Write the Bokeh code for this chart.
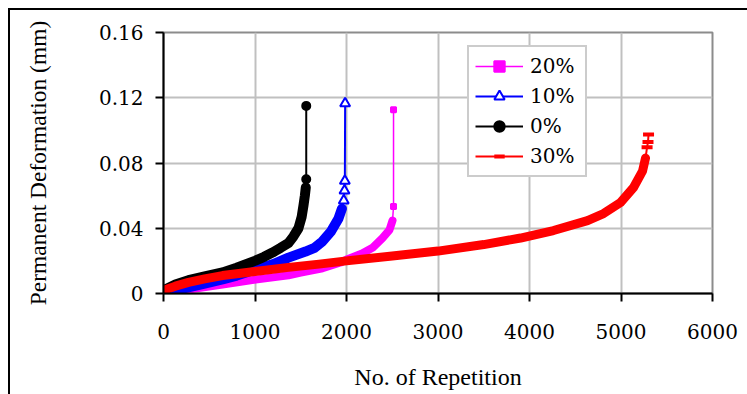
from bokeh.plotting import figure
from bokeh.models import Range1d, FixedTicker, Legend, LegendItem
from bokeh.embed import file_html
from bokeh.resources import INLINE

# ---- data ----
x_ticks = [0, 1000, 2000, 3000, 4000, 5000, 6000]
x_tick_labels = ["0", "1000", "2000", "3000", "4000", "5000", "6000"]
y_ticks = [0, 0.04, 0.08, 0.12, 0.16]
y_tick_labels = ["0", "0.04", "0.08", "0.12", "0.16"]

series_names = ["20%", "10%", "0%", "30%"]

rep_20 = [0, 273, 645, 1005, 1366, 1500, 1738, 1934, 2011, 2170, 2284, 2393, 2470, 2503, 2514, 2514]
def_20 = [0.0008, 0.0025, 0.0055, 0.0085, 0.0112, 0.0128, 0.0155, 0.019, 0.021, 0.0245, 0.028, 0.034, 0.039, 0.0447, 0.0533, 0.1127]

rep_10 = [0, 130, 273, 450, 645, 800, 1005, 1200, 1366, 1552, 1650, 1738, 1830, 1913, 1950, 1970, 1978, 1982, 1985]
def_10 = [0.0005, 0.002, 0.0037, 0.006, 0.0086, 0.011, 0.0147, 0.018, 0.022, 0.0257, 0.028, 0.032, 0.038, 0.046, 0.052, 0.057, 0.063, 0.069, 0.1165]

rep_0 = [0, 130, 273, 450, 645, 800, 1005, 1100, 1191, 1280, 1366, 1420, 1475, 1510, 1530, 1545, 1555, 1560, 1560]
def_0 = [0.002, 0.0055, 0.0082, 0.0105, 0.0129, 0.0158, 0.0202, 0.0225, 0.0251, 0.028, 0.031, 0.035, 0.040, 0.047, 0.054, 0.060, 0.065, 0.070, 0.115]

rep_30 = [0, 130, 273, 450, 645, 1000, 1366, 1700, 2000, 2500, 3000, 3500, 3902, 4262, 4634, 4809, 4995, 5137, 5235, 5268, 5285, 5295, 5301]
def_30 = [0.002, 0.0045, 0.0068, 0.009, 0.011, 0.0135, 0.016, 0.018, 0.020, 0.023, 0.026, 0.030, 0.034, 0.0386, 0.0447, 0.049, 0.0558, 0.065, 0.075, 0.083, 0.0897, 0.0928, 0.0975]

FONT = "Liberation Serif"
NUM_FONT = "DejaVu Serif"

p = figure(frame_width=549, frame_height=261,
           min_border_left=153, min_border_right=35, min_border_top=22, min_border_bottom=101,
           x_range=Range1d(0, 6000), y_range=Range1d(0, 0.16),
           output_backend="svg", toolbar_location=None)
p.styles = {"border-left": "2px solid black", "border-top": "2px solid black",
            "margin-left": "8px", "margin-top": "8px"}

p.background_fill_color = "white"
p.border_fill_color = "white"
p.outline_line_color = "#8c8c8c"
p.outline_line_width = 2

for ax in (p.xaxis[0], p.yaxis[0]):
    ax.axis_line_color = "black"
    ax.axis_line_width = 2
    ax.major_tick_line_color = "black"
    ax.major_tick_line_width = 2
    ax.major_tick_out = 8
    ax.major_tick_in = 0
    ax.minor_tick_line_color = None
    ax.major_label_text_font = NUM_FONT
    ax.major_label_text_font_style = "normal"
    ax.major_label_text_font_size = "20px"
    ax.major_label_text_color = "black"
    ax.axis_label_text_font = FONT
    ax.axis_label_text_font_style = "normal"
    ax.axis_label_text_color = "black"

p.xaxis[0].ticker = FixedTicker(ticks=x_ticks)
p.xaxis[0].major_label_overrides = {t: l for t, l in zip(x_ticks, x_tick_labels)}
p.yaxis[0].ticker = FixedTicker(ticks=y_ticks)
p.yaxis[0].major_label_overrides = {t: l for t, l in zip(y_ticks, y_tick_labels)}
p.xaxis[0].major_label_standoff = 22
p.yaxis[0].major_label_standoff = 12
p.xaxis[0].axis_label = "No. of Repetition"
p.xaxis[0].axis_label_text_font_size = "24px"
p.xaxis[0].axis_label_standoff = 22
p.yaxis[0].axis_label = "Permanent Deformation (mm)"
p.yaxis[0].axis_label_text_font_size = "23.5px"
p.yaxis[0].axis_label_standoff = 45

p.xgrid.ticker = FixedTicker(ticks=x_ticks)
p.ygrid.ticker = FixedTicker(ticks=y_ticks)
p.grid.grid_line_color = "#c0c0c0"
p.grid.grid_line_width = 2

styles = {
    "20%": dict(color="#ff00ff", marker="square", size=5, fill=True, lw=1.5, band=8, tail=2),
    "10%": dict(color="#0000ff", marker="triangle", size=10, fill=False, lw=2, band=10, tail=4),
    "0%": dict(color="#000000", marker="circle", size=8, fill=True, lw=2, band=10, tail=2),
    "30%": dict(color="#ff0000", marker="dash", size=11, fill=True, lw=2, band=9, tail=3),
}
data = {"20%": (rep_20, def_20), "10%": (rep_10, def_10), "0%": (rep_0, def_0), "30%": (rep_30, def_30)}

items = []
for name in series_names:
    xs, ys = data[name]
    s = styles[name]
    c = s["color"]
    k = s["tail"]
    n = len(xs)
    p.line(xs[:n - k], ys[:n - k], line_color=c, line_width=s["band"],
           line_join="round", line_cap="round")
    ln = p.line(xs, ys, line_color=c, line_width=s["lw"])
    if s["marker"] == "dash":
        sc = p.scatter(xs[n - k:], ys[n - k:], marker="dash", size=s["size"], line_color=c, line_width=4)
    else:
        sc = p.scatter(xs[n - k:], ys[n - k:], marker=s["marker"], size=s["size"], line_color=c,
                       line_width=2, fill_color=c if s["fill"] else "white")
    items.append(LegendItem(label=name, renderers=[ln, sc]))

legend = Legend(items=items, location=(304, 116))
legend.label_text_font = NUM_FONT
legend.label_text_font_style = "normal"
legend.label_text_font_size = "20px"
legend.label_text_color = "black"
legend.glyph_width = 48
legend.glyph_height = 26
legend.label_height = 26
legend.label_width = 49
legend.label_standoff = 7
legend.spacing = 4
legend.padding = 6
legend.margin = 0
legend.border_line_color = "#999999"
legend.border_line_width = 2
legend.background_fill_color = "white"
legend.background_fill_alpha = 1
p.add_layout(legend, "center")

open("out.html", "w").write(file_html(p, INLINE))
